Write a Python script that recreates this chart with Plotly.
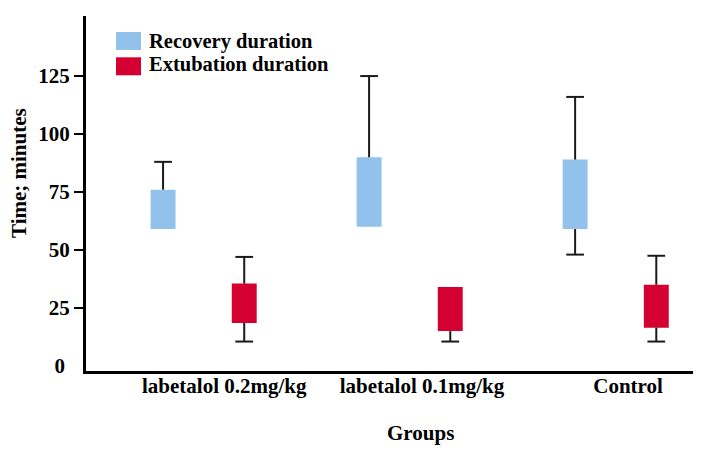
import plotly.graph_objects as go

# ---- data ----
groups = ["labetalol 0.2mg/kg", "labetalol 0.1mg/kg", "Control"]
series = ["Recovery duration", "Extubation duration"]
rec_q1 = [59, 60, 59]
rec_q3 = [76, 90, 89]
rec_low = [None, None, 48]
rec_high = [88, 125, 116]
ext_q1 = [18.5, 15, 16.5]
ext_q3 = [35.5, 34, 35]
ext_low = [10.5, 10.5, 10.5]
ext_high = [47, None, 47.5]
y_ticks = [25, 50, 75, 100, 125]

# ---- style ----
BLUE = "#92C2EB"
RED = "#D50032"
FONT = "Liberation Serif"
BODY = 8                      # default page margin around the figure
W, H = 701 - BODY, 452 - BODY
ML, MR, MT, MB = 86 - BODY, 0, 16 - BODY, 81
OFF = 0.197      # offset of each series from the group centre (x units)
BW = 0.121       # box width
CW = 0.043       # half cap width

xpos = list(range(len(groups)))

fig = go.Figure()


def add_series(name, q1, q3, low, high, color, sign):
    xs = [x + sign * OFF for x in xpos]
    fig.add_trace(go.Bar(
        x=xs, y=[b - a for a, b in zip(q1, q3)], base=q1, width=BW,
        marker=dict(color=color, line=dict(width=0)), name=name,
        showlegend=False, hoverinfo="skip"))
    wx, wy = [], []
    for x, a, b, lo, hi in zip(xs, q1, q3, low, high):
        if hi is not None:
            wx += [x, x, None, x - CW, x + CW, None]
            wy += [b, hi, None, hi, hi, None]
        if lo is not None:
            wx += [x, x, None, x - CW, x + CW, None]
            wy += [a, lo, None, lo, lo, None]
    fig.add_trace(go.Scatter(x=wx, y=wy, mode="lines",
                             line=dict(color="#1a1a1a", width=2),
                             showlegend=False, hoverinfo="skip"))


add_series(series[0], rec_q1, rec_q3, rec_low, rec_high, BLUE, -1)
add_series(series[1], ext_q1, ext_q3, ext_low, ext_high, RED, +1)
# helper trace so the overlaying axis (for the "0" label) is drawn
fig.add_trace(go.Scatter(x=[None], y=[None], yaxis="y2", showlegend=False))

PW = W - ML - MR
PH = H - MT - MB


def px_x(p):
    return (p - BODY - ML) / PW


def px_y(p):
    return (H + BODY - MB - p) / PH


tickfont = dict(family=FONT, size=21, color="black", weight="bold")
legfont = dict(family=FONT, size=20.5, color="black", weight="bold")
YR = [-2.2, 150.9]

fig.update_layout(
    width=W, height=H,
    margin=dict(l=ML, r=MR, t=MT, b=MB, pad=0),
    plot_bgcolor="white", paper_bgcolor="white",
    barmode="overlay",
    showlegend=False,
    xaxis=dict(range=[-0.571, 2.414], tickvals=[0.1, 1.06, 2.06], ticktext=groups,
               ticks="", showline=True, linewidth=3, linecolor="black",
               showgrid=False, zeroline=False, tickfont=tickfont,
               ticklabelstandoff=-6),
    yaxis=dict(range=YR, tickvals=y_ticks, ticks="outside", ticklen=9,
               tickwidth=2, tickcolor="black", showline=True, linewidth=3,
               linecolor="black", showgrid=False, zeroline=False,
               tickfont=tickfont),
    yaxis2=dict(range=YR, overlaying="y", side="left", tickvals=[0],
                ticks="", showline=False, showgrid=False, zeroline=False,
                tickfont=tickfont, ticklabelstandoff=20),
)

# axis titles
fig.add_annotation(text="Groups", xref="paper", yref="paper",
                   x=px_x(420.5), y=px_y(433), showarrow=False,
                   font=tickfont, xanchor="center", yanchor="middle")
fig.add_annotation(text="Time; minutes", xref="paper", yref="paper",
                   x=px_x(18.5), y=px_y(173.5), showarrow=False, textangle=-90,
                   font=tickfont, xanchor="center", yanchor="middle")

# legend drawn by hand (large rectangular keys)
for (name, color, top, bot, ty) in [(series[0], BLUE, 32, 50, 41.5),
                                     (series[1], RED, 57.3, 75.3, 63.5)]:
    fig.add_shape(type="rect", xref="paper", yref="paper",
                  x0=px_x(116), x1=px_x(141), y0=px_y(bot), y1=px_y(top),
                  fillcolor=color, line=dict(width=0))
    fig.add_annotation(text=name, xref="paper", yref="paper",
                       x=px_x(147), y=px_y(ty), showarrow=False,
                       font=legfont, xanchor="left", yanchor="middle")

fig.write_html("out.html")
